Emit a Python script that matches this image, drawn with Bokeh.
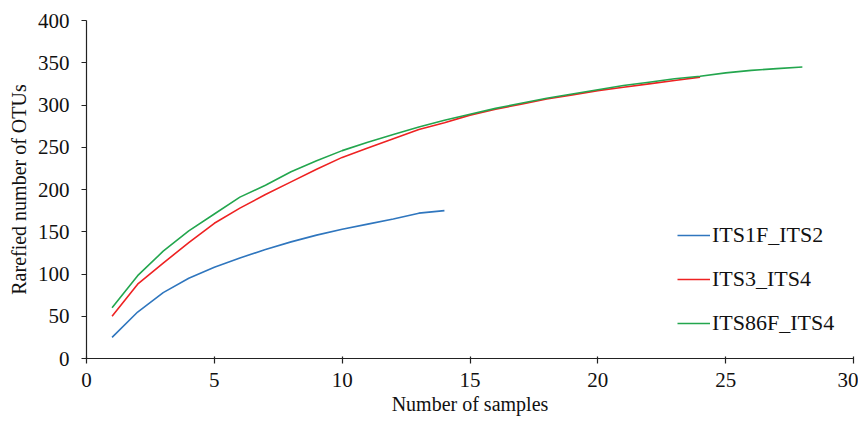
from bokeh.plotting import figure
from bokeh.models import Range1d, Legend, LegendItem, FixedTicker
from bokeh.embed import file_html
from bokeh.resources import INLINE

x_blue = [1, 2, 3, 4, 5, 6, 7, 8, 9, 10, 11, 12, 13, 14]
its1f_its2 = [25, 55, 78, 95, 108, 119, 129, 138, 146, 153, 159, 165, 172, 175]

x_red = list(range(1, 25))
its3_its4 = [50, 88, 113, 137, 160, 178, 194, 209, 224, 238, 249, 260, 271, 279,
             288, 295, 301, 307, 312, 317, 321, 325, 329, 333]

x_green = list(range(1, 29))
its86f_its4 = [60, 98, 127, 151, 171, 191, 205, 221, 234, 246, 256, 265, 274, 282,
               289, 296, 302, 308, 313, 318, 323, 327, 331, 334, 338, 341, 343, 345]

x_ticks = [0, 5, 10, 15, 20, 25, 30]
y_ticks = [0, 50, 100, 150, 200, 250, 300, 350, 400]

FONT = "Liberation Serif"

p = figure(width=858, height=418, output_backend="svg", toolbar_location=None,
           x_range=Range1d(0, 30), y_range=Range1d(0, 400),
           min_border_left=86, min_border_right=5, min_border_top=20, min_border_bottom=60)
p.outline_line_color = None
p.xgrid.grid_line_color = None
p.ygrid.grid_line_color = None

r1 = p.line(x_blue, its1f_its2, line_color="#2F76BE", line_width=1.6, line_join="round")
r2 = p.line(x_red, its3_its4, line_color="#EE2222", line_width=1.6, line_join="round")
r3 = p.line(x_green, its86f_its4, line_color="#23A64E", line_width=1.6, line_join="round")

for ax in (p.xaxis[0], p.yaxis[0]):
    ax.axis_line_color = "#222222"
    ax.axis_line_width = 1.2
    ax.major_tick_line_color = "#222222"
    ax.major_tick_line_width = 1.2
    ax.minor_tick_line_color = None
    ax.major_label_text_font = FONT
    ax.major_label_text_font_size = "21px"
    ax.major_label_text_color = "#111111"
    ax.axis_label_text_font = FONT
    ax.axis_label_text_font_size = "20px"
    ax.axis_label_text_font_style = "normal"
    ax.axis_label_text_color = "#111111"

p.xaxis.ticker = FixedTicker(ticks=x_ticks)
p.yaxis.ticker = FixedTicker(ticks=y_ticks)
p.xaxis.major_tick_in = 2
p.xaxis.major_tick_out = 5
p.yaxis.major_tick_in = 0
p.yaxis.major_tick_out = 5
p.xaxis.axis_label = "Number of samples"
p.yaxis.axis_label = "Rarefied number of OTUs"
p.xaxis.major_label_standoff = 9
p.yaxis.major_label_standoff = 12
p.xaxis.axis_label_standoff = 3
p.yaxis.axis_label_standoff = 5

legend = Legend(items=[LegendItem(label="ITS1F_ITS2", renderers=[r1]),
                       LegendItem(label="ITS3_ITS4", renderers=[r2]),
                       LegendItem(label="ITS86F_ITS4", renderers=[r3])],
                location=(591, 22))
legend.border_line_color = None
legend.background_fill_alpha = 0
legend.padding = 0
legend.margin = 0
legend.glyph_width = 33
legend.glyph_height = 22
legend.label_height = 22
legend.spacing = 18
legend.label_standoff = 2
legend.label_text_font = FONT
legend.label_text_font_size = "22px"
legend.label_text_color = "#111111"
p.add_layout(legend, "center")

open("out.html", "w").write(file_html(p, INLINE))
